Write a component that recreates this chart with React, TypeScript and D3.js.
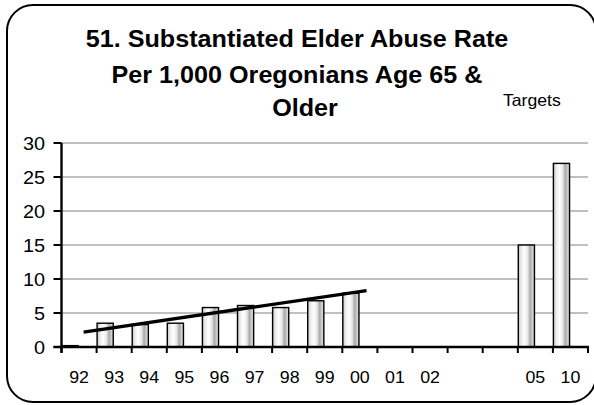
import React from "react";
import * as d3 from "d3";

const categories = ["92", "93", "94", "95", "96", "97", "98", "99", "00", "01", "02", "", "", "05", "10"];
const values: (number | null)[] = [0.2, 3.5, 3.3, 3.5, 5.8, 6.1, 5.8, 6.8, 7.9, null, null, null, null, 15, 27];
const yTicks = [0, 5, 10, 15, 20, 25, 30];
const trendPos = [0.63, 8.69];
const trendVal = [2.2, 8.3];
const titleLines = ["51. Substantiated Elder Abuse Rate", "Per 1,000 Oregonians Age 65 &", "Older"];
const targetLabel = "Targets";

const W = 594;
const H = 405;
const SX = 1.08;
const FONT = "'Liberation Sans', Arial, sans-serif";

export default function App() {
  const left = 61.5;
  const right = 588;
  const x = d3.scaleBand<number>().domain(d3.range(categories.length)).range([left, right]).padding(0);
  const xi = d3.scaleLinear().domain([0, categories.length]).range([left, right]);
  const y = d3.scaleLinear().domain([0, 30]).range([347, 143]);
  const bw = x.bandwidth();
  const line = d3
    .line<number>()
    .x((_, i) => xi(trendPos[i]))
    .y((d) => y(d));

  const txt = (s: string, tx: number, ty: number, size: number, anchor: string, bold = false, key?: any) => (
    <text
      key={key}
      transform={`translate(${tx},${ty}) scale(${SX},1)`}
      textAnchor={anchor as any}
      fontFamily={FONT}
      fontSize={size}
      fontWeight={bold ? "bold" : "normal"}
      fill="#000"
    >
      {s}
    </text>
  );

  const titleX = [297, 297, 305];
  const titleY = [47, 83, 116];

  return (
    <svg width={W} height={H} style={{ position: "absolute", left: 0, top: 0, background: "#fff" }}>
      <defs>
        <linearGradient id="barGrad" x1="0" x2="1" y1="0" y2="0">
          <stop offset="0" stopColor="#c4c4c4" />
          <stop offset="0.18" stopColor="#ececec" />
          <stop offset="0.38" stopColor="#ffffff" />
          <stop offset="0.58" stopColor="#e6e6e6" />
          <stop offset="0.74" stopColor="#a9a9a9" />
          <stop offset="0.88" stopColor="#cfcfcf" />
          <stop offset="1" stopColor="#dcdcdc" />
        </linearGradient>
      </defs>
      <rect x={0} y={0} width={W} height={H} fill="#fff" />
      <rect x={7} y={5} width={589} height={397} rx={26} ry={26} fill="#fff" stroke="#000" strokeWidth={2} />

      {titleLines.map((t, i) => txt(t, titleX[i], titleY[i], 23.3, "middle", true, "t" + i))}
      {txt(targetLabel, 503, 106, 16.3, "start", false)}

      {/* gridlines */}
      {yTicks
        .filter((t) => t > 0)
        .map((t) => (
          <line key={"g" + t} x1={left} x2={right} y1={y(t)} y2={y(t)} stroke="#808080" strokeWidth={1} />
        ))}

      {/* bars */}
      {values.map((v, i) =>
        v == null ? null : (
          <rect
            key={"b" + i}
            x={(x(i) as number) + 0.5}
            y={y(v)}
            width={bw * 0.46}
            height={y(0) - y(v)}
            fill="url(#barGrad)"
            stroke="#000"
            strokeWidth={1.4}
          />
        )
      )}

      {/* trend line */}
      <path d={line(trendVal) || ""} stroke="#000" strokeWidth={3.3} fill="none" />

      {/* y axis */}
      <line x1={left} x2={left} y1={y(30)} y2={y(0) + 6} stroke="#000" strokeWidth={2.4} />
      {yTicks.map((t) => (
        <g key={"yt" + t}>
          <line x1={left - 8} x2={left} y1={y(t)} y2={y(t)} stroke="#000" strokeWidth={2} />
          {txt(String(t), 45, y(t) + 6.6, 18.4, "end")}
        </g>
      ))}

      {/* x axis */}
      <line x1={left - 8} x2={right + 1} y1={y(0)} y2={y(0)} stroke="#000" strokeWidth={2.4} />
      {d3.range(categories.length + 1).map((i) => (
        <line key={"xt" + i} x1={xi(i)} x2={xi(i)} y1={y(0)} y2={y(0) + 6} stroke="#000" strokeWidth={2} />
      ))}
      {categories.map((c, i) => (c ? txt(c, (x(i) as number) + bw / 2, 383, 16.5, "middle", false, "xl" + i) : null))}
    </svg>
  );
}
